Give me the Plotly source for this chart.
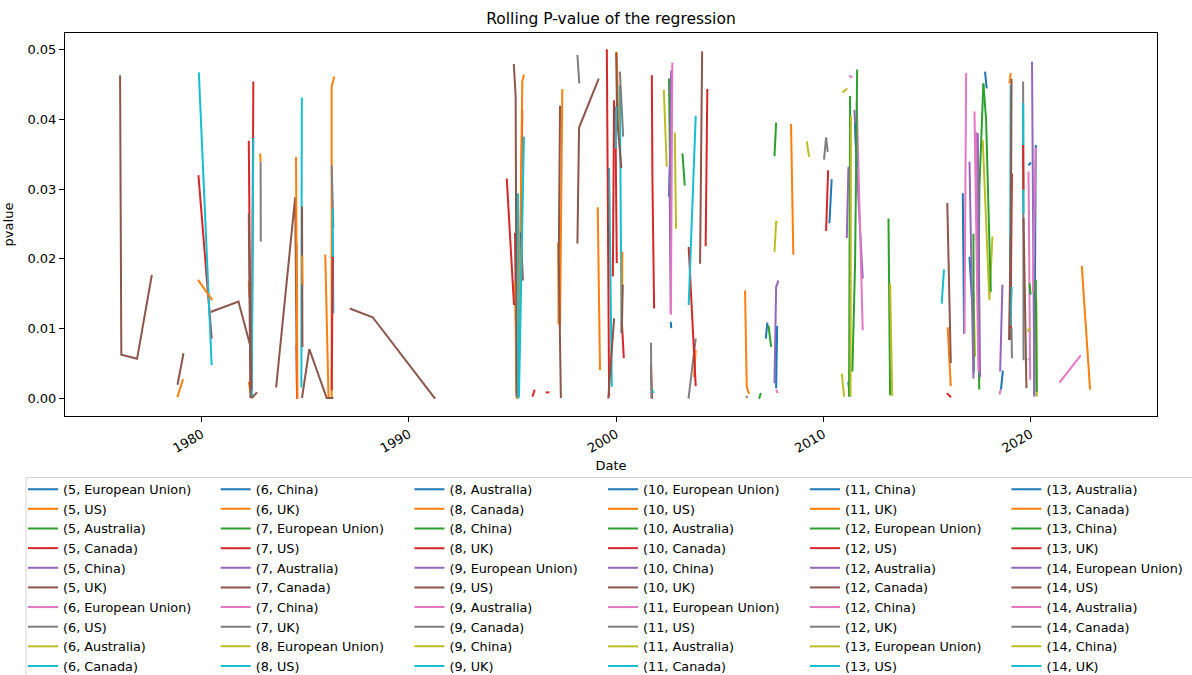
import pandas as pd
import plotly.graph_objects as go

HORIZONS = [5, 6, 7, 8, 9, 10, 11, 12, 13, 14]
COUNTRIES = ["European Union", "US", "Australia", "Canada", "China", "UK"]
COLORS = ["#1f77b4", "#ff7f0e", "#2ca02c", "#d62728", "#9467bd",
          "#8c564b", "#e377c2", "#7f7f7f", "#bcbd22", "#17becf"]

TITLE = "Rolling P-value of the regression"
X_TITLE = "Date"
Y_TITLE = "pvalue"
X_RANGE = [1973.4, 2026.1]
Y_RANGE = [-0.00248, 0.05233]
Y_TICKS = [0.00, 0.01, 0.02, 0.03, 0.04, 0.05]

# visible pieces of each rolling series (decimal year, p-value)
seg_series = [
    # brown
    "(5, UK)", "(5, UK)", "(5, UK)", "(7, Canada)", "(12, Canada)", "(9, US)", "(10, UK)",
    "(7, Canada)", "(10, UK)", "(12, Canada)", "(14, US)", "(9, US)", "(7, Canada)",
    "(14, US)", "(12, Canada)", "(10, UK)", "(14, US)", "(9, US)", "(12, Canada)", "(14, US)",
    # orange
    "(5, US)", "(6, UK)", "(8, Canada)", "(8, Canada)", "(10, US)", "(11, UK)", "(13, Canada)",
    "(5, US)", "(6, UK)", "(8, Canada)", "(10, US)", "(11, UK)", "(13, Canada)", "(5, US)",
    "(6, UK)", "(8, Canada)", "(10, US)", "(11, UK)", "(13, Canada)", "(5, US)", "(6, UK)",
    "(8, Canada)",
    # red
    "(5, Canada)", "(7, US)", "(8, UK)", "(10, Canada)", "(12, US)", "(13, UK)", "(5, Canada)",
    "(7, US)", "(8, UK)", "(10, Canada)", "(12, US)", "(13, UK)", "(5, Canada)", "(7, US)",
    "(8, UK)", "(10, Canada)", "(12, US)", "(13, UK)", "(5, Canada)", "(7, US)", "(8, UK)",
    "(13, UK)", "(12, US)",
    # cyan
    "(6, Canada)", "(8, US)", "(9, UK)", "(11, Canada)", "(13, US)", "(14, UK)", "(6, Canada)",
    "(8, US)", "(9, UK)", "(11, Canada)", "(13, US)", "(14, UK)", "(6, Canada)", "(13, US)",
    "(14, UK)", "(11, Canada)",
    # gray
    "(6, US)", "(7, UK)", "(9, Canada)", "(11, US)", "(12, UK)", "(14, Canada)", "(11, US)",
    "(7, UK)", "(9, Canada)", "(6, US)", "(12, UK)",
    # green
    "(5, Australia)", "(7, European Union)", "(8, China)", "(10, Australia)",
    "(12, European Union)", "(13, China)", "(5, Australia)", "(7, European Union)",
    "(8, China)", "(10, Australia)", "(12, European Union)", "(13, China)",
    "(12, European Union)",
    # purple
    "(5, China)", "(7, Australia)", "(9, European Union)", "(10, China)", "(12, Australia)",
    "(14, European Union)", "(5, China)", "(7, Australia)", "(9, European Union)",
    # pink
    "(6, European Union)", "(7, China)", "(9, Australia)", "(11, European Union)",
    "(12, China)", "(14, Australia)", "(6, European Union)", "(7, China)", "(9, Australia)",
    "(11, European Union)", "(12, China)",
    # olive
    "(6, Australia)", "(8, European Union)", "(9, China)", "(11, Australia)",
    "(13, European Union)", "(14, China)", "(6, Australia)", "(8, European Union)",
    "(9, China)", "(11, Australia)", "(13, European Union)", "(14, China)",
    # blue
    "(5, European Union)", "(6, China)", "(8, Australia)", "(10, European Union)",
    "(11, China)", "(13, Australia)", "(5, European Union)", "(6, China)", "(8, Australia)",
    "(10, European Union)", "(11, China)", "(13, Australia)", "(5, European Union)",
]

seg_years = [
    # brown
    [1976.06, 1976.12, 1976.88, 1977.59], [1980.43, 1981.77, 1982.33, 1982.41, 1982.67],
    [1987.14, 1988.25, 1991.26], [1978.83, 1979.12], [1982.27, 1982.35],
    [1983.59, 1984.51, 1984.6], [1984.84, 1984.86], [1984.84, 1985.19, 1986.03, 1986.35],
    [1995.06, 1995.15, 1995.2], [1995.4, 1995.5], [1997.29, 1997.23, 1997.33],
    [1998.13, 1998.21, 1999.16], [2000.0, 2000.05, 2000.25], [1999.62, 1999.9],
    [2000.27, 2000.32], [2004.05, 2004.15], [2015.98, 2016.15], [2019.03, 2019.08],
    [2018.96, 2019.04], [2019.66, 2019.8],
    # orange
    [1978.82, 1979.1], [1979.82, 1980.51], [1982.27, 1982.3], [1982.27, 1982.35],
    [1982.82, 1982.84], [1984.55, 1984.62], [1984.84, 1984.86], [1985.96, 1986.12],
    [1986.27, 1986.27, 1986.4], [1995.28, 1995.44, 1995.47, 1995.55], [1995.12, 1995.2],
    [1997.29, 1997.4], [1997.2, 1997.22], [1999.11, 1999.22], [1999.97, 2000.03, 2000.12],
    [2000.27, 2000.3], [2003.76, 2003.84], [2006.22, 2006.3, 2006.41], [2008.44, 2008.55],
    [2016.0, 2016.15], [2018.98, 2019.04], [2022.47, 2022.87],
    # red
    [1979.84, 1980.48], [1982.41, 1982.49], [1982.27, 1982.37], [1984.58, 1984.6],
    [1986.27, 1986.32], [1994.72, 1995.07], [1995.29, 1995.47], [1995.12, 1995.2],
    [1995.96, 1996.07], [1996.6, 1996.78], [1999.55, 1999.66], [1999.84, 1999.9],
    [1999.96, 2000.03], [2000.27, 2000.37], [2001.72, 2001.75, 2001.83], [2001.68, 2001.73],
    [2003.5, 2003.84], [2004.32, 2004.4], [2010.13, 2010.23], [2015.96, 2016.16],
    [2019.03, 2019.1], [2019.64, 2019.66], [2019.03, 2019.08],
    # cyan
    [1979.86, 1980.48], [1982.41, 1982.49], [1984.81, 1984.83], [1986.32, 1986.35],
    [1995.31, 1995.55], [1995.26, 1995.28], [2000.18, 2000.26], [1999.66, 1999.79],
    [1999.98, 2000.0], [2001.7, 2001.8], [2003.5, 2003.84], [2015.71, 2015.82],
    [2019.01, 2019.04], [2019.64, 2019.65], [2019.65, 2019.66], [2019.01, 2019.09],
    # gray
    [1982.84, 1982.85], [1984.58, 1984.6], [1986.27, 1986.35], [1998.13, 1998.22],
    [2000.18, 2000.34], [2001.68, 2001.7], [2003.49, 2003.84], [2006.25, 2006.35],
    [2010.03, 2010.13, 2010.21], [2019.64, 2019.66], [2019.08, 2019.1],
    # green
    [2002.55, 2002.64], [2003.2, 2003.31], [2006.9, 2006.98], [2007.35, 2007.48],
    [2007.64, 2007.72], [2011.4, 2011.53, 2011.63], [2011.24, 2011.29], [2013.14, 2013.22],
    [2017.52, 2017.48, 2017.53, 2017.72], [2017.72, 2017.85, 2018.0, 2018.08],
    [2019.95, 2020.0], [2020.25, 2020.3], [2017.24, 2017.26],
    # purple
    [2002.6, 2002.66, 2002.58, 2002.63], [2007.64, 2007.72, 2007.83], [2011.13, 2011.21],
    [2011.5, 2011.61, 2011.9], [2017.05, 2017.24], [2017.45, 2017.56], [2018.53, 2018.64],
    [2020.07, 2020.18], [2019.9, 2019.98],
    # pink
    [2002.64, 2002.71], [2007.72, 2007.8], [2011.24, 2011.4], [2011.61, 2011.9],
    [2016.81, 2016.89], [2017.29, 2017.48], [2017.37, 2017.53], [2020.12, 2020.25],
    [2019.9, 2019.98], [2021.39, 2022.42], [2018.5, 2018.55],
    # olive
    [2002.3, 2002.44], [2002.83, 2002.89], [2007.64, 2007.72, 2007.8], [2009.2, 2009.31],
    [2010.92, 2011.16], [2010.89, 2011.0], [2011.31, 2011.33], [2013.22, 2013.32],
    [2017.69, 2018.01, 2018.16], [2017.24, 2017.32], [2020.28, 2020.3], [2019.85, 2019.98],
    # blue
    [2002.55, 2002.63], [2002.63, 2002.66], [2007.22, 2007.3], [2007.72, 2007.77],
    [2010.29, 2010.4], [2011.53, 2011.61], [2011.2, 2011.28], [2016.73, 2016.79],
    [2017.05, 2017.19], [2017.8, 2017.88], [2018.57, 2018.66], [2019.9, 2020.02],
    [2020.18, 2020.25],
]

seg_pvalues = [
    # brown
    [0.0463, 0.0063, 0.0057, 0.0177], [0.0124, 0.0139, 0.0077, 0.0001, 0.0009],
    [0.0129, 0.01165, 0.0], [0.0020, 0.0065], [0.0265, 0.0001],
    [0.0016, 0.0288, 0.0001], [0.0275, 0.0074], [0.0001, 0.0071, 0.0001, 0.0001],
    [0.0479, 0.0432, 0.0003], [0.0238, 0.0169], [0.0419, 0.0201, 0.0001],
    [0.0222, 0.0388, 0.0458], [0.0495, 0.0400, 0.0330], [0.0, 0.0115],
    [0.0094, 0.0163], [0.0193, 0.0497], [0.028, 0.0051], [0.0084, 0.0458],
    [0.0084, 0.0232], [0.0259, 0.0015],
    # orange
    [0.0002, 0.0028], [0.017, 0.0141], [0.0168, 0.0145], [0.0024, 0.0010],
    [0.0351, 0.0339], [0.0346, 0.0], [0.0205, 0.0163], [0.0206, 0.0],
    [0.0, 0.0447, 0.0461], [0.0003, 0.0413, 0.0454, 0.0464], [0.0168, 0.0],
    [0.0103, 0.0443], [0.0223, 0.0106], [0.0274, 0.0041], [0.0495, 0.0495, 0.0380],
    [0.0098, 0.021], [0.0031, 0.007], [0.0155, 0.0017, 0.0007], [0.0393, 0.0206],
    [0.0102, 0.0018], [0.0451, 0.0466], [0.019, 0.0013],
    # red
    [0.032, 0.0086], [0.0013, 0.0454], [0.0369, 0.0013], [0.0077, 0.0],
    [0.0012, 0.0203], [0.0315, 0.0134], [0.0002, 0.0413], [0.0237, 0.0008],
    [0.0003, 0.0013], [0.0009, 0.0009], [0.05, 0.0003], [0.0175, 0.0427],
    [0.0418, 0.0194], [0.0113, 0.0058], [0.0463, 0.0311, 0.0129], [0.0048, 0.0],
    [0.0217, 0.0018], [0.0218, 0.0443], [0.024, 0.0327], [0.0008, 0.0002],
    [0.0101, 0.0322], [0.0363, 0.0299], [0.0104, 0.0099],
    # cyan
    [0.0467, 0.0048], [0.0003, 0.0373], [0.0016, 0.0431], [0.0272, 0.0122],
    [0.0003, 0.0375], [0.0294, 0.0], [0.0449, 0.0094], [0.033, 0.0017],
    [0.0358, 0.0418], [0.0015, 0.0008], [0.0134, 0.0405], [0.0136, 0.0185],
    [0.0184, 0.0449], [0.0423, 0.0361], [0.0299, 0.0265], [0.0098, 0.016],
    # gray
    [0.0339, 0.0225], [0.0222, 0.0122], [0.0334, 0.0244], [0.0492, 0.0451],
    [0.0468, 0.0375], [0.008, 0.0001], [0.0, 0.0086], [0.0003, 0.0002],
    [0.0342, 0.0374, 0.0353], [0.0454, 0.0055], [0.0101, 0.0058],
    # green
    [0.0458, 0.0232], [0.0351, 0.0305], [0.0, 0.0008], [0.0105, 0.0074],
    [0.0347, 0.0395], [0.0039, 0.0194, 0.0471], [0.0003, 0.0433], [0.0258, 0.0005],
    [0.0013, 0.015, 0.0303, 0.0451], [0.0451, 0.040, 0.0237, 0.0153],
    [0.0165, 0.0149], [0.017, 0.001], [0.0236, 0.0037],
    # purple
    [0.0437, 0.047, 0.031, 0.0122], [0.0022, 0.016, 0.0169], [0.023, 0.0332],
    [0.0413, 0.0332, 0.0172], [0.0339, 0.0029], [0.038, 0.0031], [0.0039, 0.0163],
    [0.0482, 0.0003], [0.0055, 0.0057],
    # pink
    [0.012, 0.0481], [0.0013, 0.0008], [0.0462, 0.046], [0.0424, 0.0098],
    [0.0093, 0.0466], [0.0411, 0.0039], [0.0382, 0.0027], [0.0153, 0.0359],
    [0.0325, 0.0027], [0.0023, 0.0062], [0.0006, 0.0013],
    # olive
    [0.0442, 0.0332], [0.0381, 0.0243], [0.021, 0.0253, 0.0253], [0.0368, 0.0346],
    [0.0438, 0.0444], [0.0036, 0.0003], [0.0003, 0.0405], [0.0165, 0.0004],
    [0.037, 0.0141, 0.0232], [0.0153, 0.006], [0.014, 0.0003], [0.0096, 0.0101],
    # blue
    [0.0289, 0.0375], [0.011, 0.0101], [0.0086, 0.0109], [0.0015, 0.0104],
    [0.0251, 0.0314], [0.0394, 0.0332], [0.0024, 0.0003], [0.0294, 0.0093],
    [0.0203, 0.0132], [0.0468, 0.0444], [0.0013, 0.004], [0.0334, 0.0338],
    [0.0005, 0.0363],
]


def to_date(y):
    yr = int(y)
    return (pd.Timestamp(year=yr, month=1, day=1)
            + pd.Timedelta(days=(y - yr) * 365.25)).strftime("%Y-%m-%d %H:%M")


FONT = "DejaVu Sans"
W, H = 1192, 675
L, R, T, B = 65, 35, 33, 259
PW, PH = W - L - R, H - T - B

# legend column anchors (px) and top (px)
LEG_COL_PX = [23, 215.7, 409.4, 603, 805, 1006.4]
LEG_TOP_PX = 474.4

fig = go.Figure()
labels = [f"({h}, {c})" for h in HORIZONS for c in COUNTRIES]
for i, lab in enumerate(labels):
    xs, ys = [], []
    for s, yrs, pv in zip(seg_series, seg_years, seg_pvalues):
        if s == lab:
            if xs:
                xs.append(None)
                ys.append(None)
            xs += [to_date(v) for v in yrs]
            ys += pv
    col = i // 10
    fig.add_trace(go.Scatter(
        x=xs, y=ys, mode="lines", name=lab,
        line=dict(color=COLORS[i % 10], width=2),
        legend="legend" if col == 0 else f"legend{col + 1}",
    ))

legends = {}
for k, px in enumerate(LEG_COL_PX):
    key = "legend" if k == 0 else f"legend{k + 1}"
    legends[key] = dict(
        x=(px - L) / PW, y=-(LEG_TOP_PX - (T + PH)) / PH,
        xanchor="left", yanchor="top", orientation="v",
        font=dict(family=FONT, size=12.8, color="#000000"),
        bgcolor="rgba(0,0,0,0)", borderwidth=0, itemwidth=30,
        tracegroupgap=0,
    )

fig.update_layout(
    width=W, height=H,
    margin=dict(l=L, r=R, t=T, b=B, autoexpand=False),
    paper_bgcolor="white", plot_bgcolor="white",
    font=dict(family=FONT, size=13, color="#000000"),
    title=dict(text=TITLE, x=0.5, xref="paper", xanchor="center",
               y=1 - 19 / H, yanchor="middle",
               font=dict(family=FONT, size=15.5, color="#000000")),
    showlegend=True,
    **legends,
)

fig.add_shape(type="rect", xref="paper", yref="paper",
              x0=(26 - L) / PW, x1=(1215 - L) / PW,
              y0=-(477.5 - (T + PH)) / PH, y1=-(700 - (T + PH)) / PH,
              line=dict(color="#d4d4d4", width=1), fillcolor="rgba(0,0,0,0)",
              layer="above")

fig.update_xaxes(
    type="date", range=[to_date(X_RANGE[0]), to_date(X_RANGE[1])],
    dtick="M120", tick0="1980-01-01", tickformat="%Y", tickangle=-30,
    showgrid=False, zeroline=False,
    showline=True, linecolor="black", linewidth=1, mirror=True,
    ticks="outside", ticklen=5, tickcolor="black", tickwidth=1,
    tickfont=dict(family=FONT, size=13, color="#000000"),
    title=dict(text=X_TITLE, font=dict(family=FONT, size=13, color="#000000"), standoff=6),
)
fig.update_yaxes(
    range=Y_RANGE, tickvals=Y_TICKS, tickformat=".2f",
    showgrid=False, zeroline=False,
    showline=True, linecolor="black", linewidth=1, mirror=True,
    ticks="outside", ticklen=5, tickcolor="black", tickwidth=1,
    tickfont=dict(family=FONT, size=13, color="#000000"),
    title=dict(text=Y_TITLE, font=dict(family=FONT, size=13, color="#000000"), standoff=10),
)

fig.write_html("out.html", config={"displayModeBar": False},
               post_script="document.body.style.margin='0';")
